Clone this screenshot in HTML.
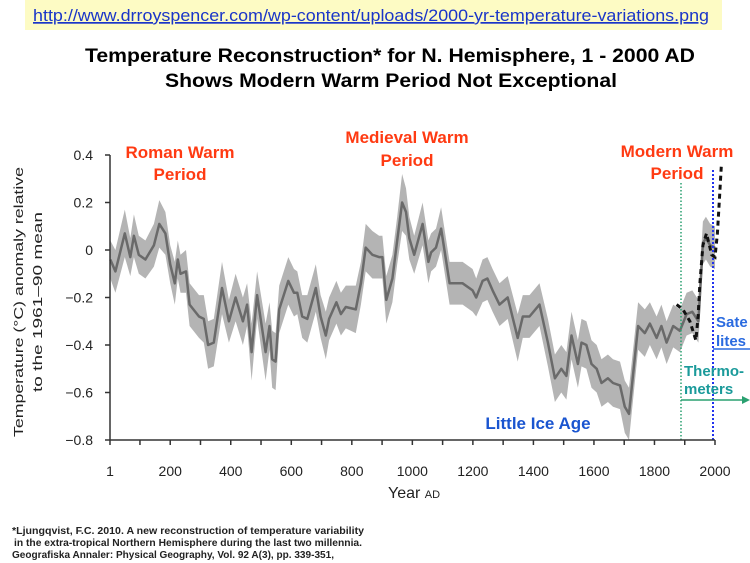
<!DOCTYPE html>
<html><head><meta charset="utf-8"><style>
html,body{margin:0;padding:0;background:#fff;}
svg{display:block;font-family:"Liberation Sans",Arial,sans-serif;}
</style></head><body>
<svg id="chart" width="750" height="563" viewBox="0 0 750 563">
<rect x="25" y="0" width="697" height="30" fill="#fdfbc4"/>
<text x="33" y="21" font-size="17" fill="#1a35c8" text-decoration="underline" textLength="676" lengthAdjust="spacingAndGlyphs">http://www.drroyspencer.com/wp-content/uploads/2000-yr-temperature-variations.png</text>
<text x="85" y="62" font-size="19" font-weight="bold" textLength="610" lengthAdjust="spacingAndGlyphs">Temperature Reconstruction* for N. Hemisphere, 1 - 2000 AD</text>
<text x="165" y="87" font-size="19" font-weight="bold" textLength="452" lengthAdjust="spacingAndGlyphs">Shows Modern Warm Period Not Exceptional</text>
<g id="plot"></g>
<g font-size="13" fill="#222">
<text transform="translate(23,302) rotate(-90)" text-anchor="middle" textLength="270" lengthAdjust="spacingAndGlyphs">Temperature (°C) anomaly relative</text>
<text transform="translate(42,302) rotate(-90)" text-anchor="middle" textLength="180" lengthAdjust="spacingAndGlyphs">to the 1961–90 mean</text>
</g>
<text x="388" y="498" font-size="16" fill="#222">Year <tspan font-size="11">AD</tspan></text>
<g font-size="17" font-weight="bold" fill="#ff3a12" text-anchor="middle">
<text x="180" y="158">Roman Warm</text>
<text x="180" y="180">Period</text>
<text x="407" y="143">Medieval Warm</text>
<text x="407" y="166">Period</text>
<text x="677" y="157">Modern Warm</text>
<text x="677" y="179">Period</text>
</g>
<text x="538" y="429" font-size="17" font-weight="bold" fill="#1a55d0" text-anchor="middle">Little Ice Age</text>
<g font-size="15" font-weight="bold" fill="#2a6be0">
<text x="716" y="327">Sate</text>
<text x="716" y="346">lites</text>
</g>
<line x1="713" y1="349" x2="750" y2="349" stroke="#2a6be0" stroke-width="1.5"/>
<g font-size="15" font-weight="bold" fill="#1a9a9a">
<text x="684" y="376">Thermo-</text>
<text x="684" y="394">meters</text>
</g>
<line x1="681" y1="400" x2="744" y2="400" stroke="#2aa070" stroke-width="1.5"/>
<polygon points="742,396 750,400 742,404" fill="#2aa070"/>
<g font-size="10" font-weight="bold" fill="#222">
<text x="12" y="534" textLength="352" lengthAdjust="spacingAndGlyphs">*Ljungqvist, F.C. 2010. A new reconstruction of temperature variability</text>
<text x="14" y="546" textLength="348" lengthAdjust="spacingAndGlyphs">in the extra-tropical Northern Hemisphere during the last two millennia.</text>
<text x="12" y="558" textLength="322" lengthAdjust="spacingAndGlyphs">Geografiska Annaler: Physical Geography, Vol. 92 A(3), pp. 339-351,</text>
</g>
</svg>
<script>
const years = [2,19,50,68,80,96,118,146,164,184,200,215,225,234,252,264,295,311,325,344,371,394,416,440,454,469,487,515,528,537,548,560,590,609,620,636,653,681,697,714,725,749,764,780,813,830,846,868,890,901,914,934,950,966,979,990,1006,1034,1053,1062,1078,1095,1123,1166,1199,1211,1232,1248,1265,1288,1315,1348,1365,1387,1420,1448,1471,1492,1509,1526,1547,1559,1575,1592,1609,1625,1646,1663,1686,1702,1716,1746,1768,1785,1807,1823,1840,1862,1884,1906,1925,1945,1960,1970,1984,2000];
const temps = [-0.04,-0.09,0.07,-0.03,0.06,-0.02,-0.04,0.02,0.11,0.07,-0.06,-0.14,-0.04,-0.1,-0.09,-0.23,-0.28,-0.29,-0.4,-0.39,-0.16,-0.3,-0.2,-0.3,-0.23,-0.43,-0.19,-0.43,-0.32,-0.46,-0.47,-0.25,-0.13,-0.18,-0.18,-0.28,-0.29,-0.16,-0.28,-0.36,-0.29,-0.22,-0.27,-0.24,-0.25,-0.14,0.01,-0.02,-0.03,-0.03,-0.21,-0.12,0.04,0.2,0.16,0.05,-0.02,0.11,-0.05,-0.01,0.01,0.09,-0.14,-0.14,-0.17,-0.2,-0.13,-0.12,-0.17,-0.23,-0.2,-0.37,-0.28,-0.28,-0.23,-0.39,-0.54,-0.5,-0.53,-0.36,-0.48,-0.39,-0.4,-0.48,-0.5,-0.56,-0.54,-0.56,-0.57,-0.66,-0.69,-0.32,-0.35,-0.31,-0.37,-0.32,-0.39,-0.32,-0.34,-0.27,-0.26,-0.3,0.03,0.05,0.02,0.01];
const errs = [0.08,0.09,0.1,0.08,0.09,0.08,0.08,0.09,0.1,0.09,0.08,0.09,0.08,0.08,0.09,0.09,0.09,0.1,0.1,0.1,0.11,0.09,0.1,0.1,0.09,0.12,0.1,0.12,0.1,0.12,0.12,0.1,0.1,0.1,0.09,0.09,0.1,0.1,0.09,0.1,0.09,0.09,0.09,0.09,0.1,0.09,0.1,0.1,0.09,0.09,0.1,0.1,0.1,0.12,0.1,0.09,0.08,0.09,0.09,0.08,0.08,0.09,0.09,0.09,0.09,0.08,0.09,0.09,0.09,0.09,0.09,0.1,0.09,0.09,0.09,0.1,0.1,0.1,0.1,0.1,0.1,0.1,0.1,0.1,0.1,0.1,0.1,0.1,0.1,0.11,0.11,0.1,0.1,0.09,0.09,0.09,0.09,0.09,0.09,0.09,0.09,0.09,0.09,0.09,0.09,0.09];
const instYears = [1873,1894,1917,1927,1937,1944,1950,1960,1972,1989,2000,2008,2015,2021];
const instTemps = [-0.23,-0.25,-0.3,-0.34,-0.38,-0.28,-0.14,0.02,0.07,-0.02,-0.03,0.07,0.22,0.36];
const yTicks = [0.4,0.2,0,-0.2,-0.4,-0.6,-0.8];
const yTickLabels = ["0.4","0.2","0","\u22120.2","\u22120.4","\u22120.6","\u22120.8"];
const xTicks = [1,100,200,300,400,500,600,700,800,900,1000,1100,1200,1300,1400,1500,1600,1700,1800,1900,2000];
const xTickLabels = ["1","200","400","600","800","1000","1200","1400","1600","1800","2000"];
const xLabelYears = [1,200,400,600,800,1000,1200,1400,1600,1800,2000];

const NS="http://www.w3.org/2000/svg";
const X0=110, X1=715, YTOP=155, YBOT=440;
const xs = y => X0 + (y-1)/(1999)*(X1-X0);
const ys = v => YTOP + (0.4-v)/1.2*(YBOT-YTOP);
const plot=document.getElementById('plot');
function mk(tag,attrs){const e=document.createElementNS(NS,tag);for(const k in attrs)e.setAttribute(k,attrs[k]);plot.appendChild(e);return e;}

let up=years.map((y,i)=>xs(y).toFixed(1)+','+ys(temps[i]+errs[i]).toFixed(1));
let dn=years.map((y,i)=>xs(y).toFixed(1)+','+ys(temps[i]-errs[i]).toFixed(1)).reverse();
const band=mk('polygon',{points:up.concat(dn).join(' '),fill:'#b4b4b4'});



const ln=mk('polyline',{points:years.map((y,i)=>xs(y).toFixed(1)+','+ys(temps[i]).toFixed(1)).join(' '),fill:'none',stroke:'#6a6a6a','stroke-width':2.5,'stroke-linejoin':'round'});



const g1=mk('line',{x1:681,y1:183,x2:681,y2:YBOT,stroke:'#2aa070','stroke-width':1.5,'stroke-dasharray':'1.5 2'});


const b1=mk('line',{x1:713,y1:170,x2:713,y2:YBOT,stroke:'#2233ee','stroke-width':2,'stroke-dasharray':'2 2'});



const inst=mk('polyline',{points:instYears.map((y,i)=>xs(y).toFixed(1)+','+ys(instTemps[i]).toFixed(1)).join(' '),fill:'none',stroke:'#111','stroke-width':3,'stroke-dasharray':'5 4'});



const ax=mk('path',{d:`M${X0},${YTOP} V${YBOT} H${X1}`,fill:'none',stroke:'#333','stroke-width':1.5});



yTicks.forEach((v,i)=>{
  const t=mk('line',{x1:X0-5,x2:X0,y1:ys(v),y2:ys(v),stroke:'#333','stroke-width':1.5});
  
  
  const l=mk('text',{x:X0-17,y:ys(v)+5,'text-anchor':'end','font-size':14,fill:'#222'});
  l.textContent=yTickLabels[i];
  
  
});
xTicks.forEach(y=>{
  const t=mk('line',{x1:xs(y),x2:xs(y),y1:YBOT,y2:YBOT+5,stroke:'#333','stroke-width':1.5});
  
  
});
xLabelYears.forEach((y,i)=>{
  const l=mk('text',{x:xs(y),y:476,'text-anchor':'middle','font-size':14,fill:'#222'});
  l.textContent=xTickLabels[i];
  
  
});
</script>
</body></html>
